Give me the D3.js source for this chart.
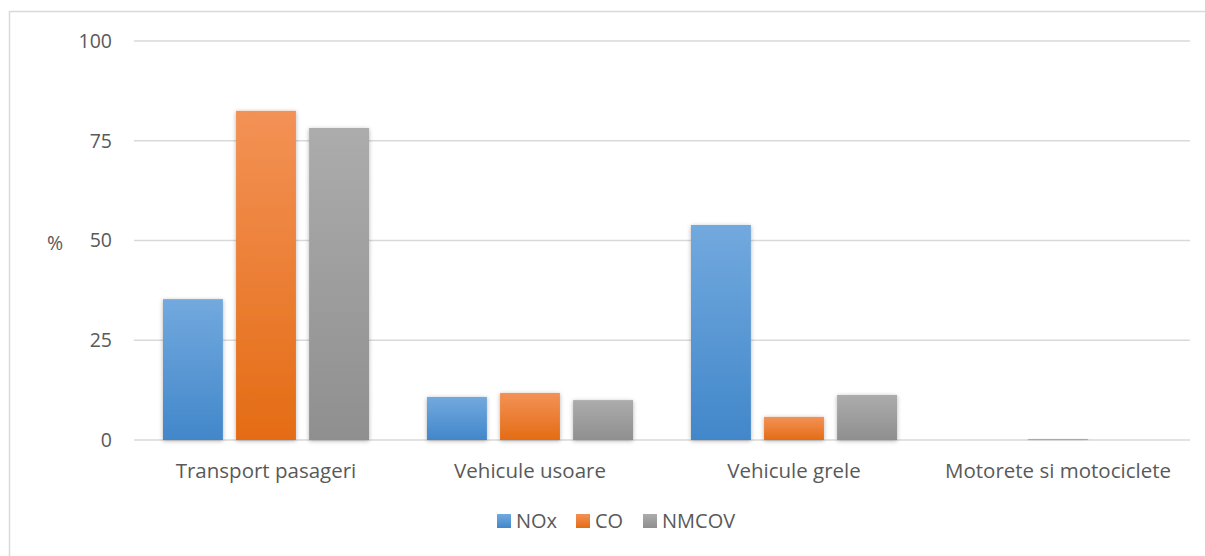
<!DOCTYPE html>
<html>
<head>
<meta charset="utf-8">
<script src="https://cdn.jsdelivr.net/npm/d3@7"></script>
<style>
  body { margin: 0; background: #fff; }
  text { font-family: "Open Sans", "Noto Sans", sans-serif; fill: #595959; }
</style>
</head>
<body>
<svg id="chart"></svg>
<script>
// data
var categories = ["Transport pasageri", "Vehicule usoare", "Vehicule grele", "Motorete si motociclete"];
var seriesNames = ["NOx", "CO", "NMCOV"];
var nox = [35.3, 10.8, 53.9, 0];
var co = [82.5, 11.8, 5.8, 0.2];
var nmcov = [78.2, 10.0, 11.3, 0];
var yTicks = [0, 25, 50, 75, 100];

var colors = {
  NOx: ["#72a9de", "#4287ca"],
  CO: ["#f39256", "#e46c15"],
  NMCOV: ["#acacac", "#8f8f8f"]
};

var W = 1205, H = 556;
var margin = {top: 41, right: 15, bottom: 116, left: 134};
var width = W - margin.left - margin.right;
var height = H - margin.top - margin.bottom;

var svg = d3.select("#chart").attr("width", W).attr("height", H);

var defs = svg.append("defs");
seriesNames.forEach(function(s) {
  var g = defs.append("linearGradient").attr("id", "grad-" + s)
    .attr("x1", 0).attr("y1", 0).attr("x2", 0).attr("y2", 1);
  g.append("stop").attr("offset", "0%").attr("stop-color", colors[s][0]);
  g.append("stop").attr("offset", "100%").attr("stop-color", colors[s][1]);
});
var f = defs.append("filter").attr("id", "shadow")
  .attr("x", "-30%").attr("y", "-30%").attr("width", "160%").attr("height", "160%");
f.append("feDropShadow").attr("dx", 0).attr("dy", 1).attr("stdDeviation", 2)
  .attr("flood-color", "#000").attr("flood-opacity", 0.3);

// chart area border (only top + left visible in reference)
svg.append("rect").attr("x", 9.5).attr("y", 11.5).attr("width", W).attr("height", H)
  .attr("fill", "none").attr("stroke", "#d9d9d9").attr("stroke-width", 1.5);

var g = svg.append("g").attr("transform", "translate(" + margin.left + "," + margin.top + ")");

var x0 = d3.scaleBand().domain(categories).range([0, width]).paddingInner(0).paddingOuter(0);
var x1 = d3.scaleBand().domain(seriesNames).range([29, x0.bandwidth() - 29]).paddingInner(0.18).paddingOuter(0);
var y = d3.scaleLinear().domain([0, 100]).range([height, 0]);

// gridlines
g.selectAll(".grid").data(yTicks).enter().append("line")
  .attr("x1", 0).attr("x2", width)
  .attr("y1", function(d) { return y(d); }).attr("y2", function(d) { return y(d); })
  .attr("stroke", "#d9d9d9").attr("stroke-width", 1.5);

// y tick labels
g.selectAll(".ytick").data(yTicks).enter().append("text")
  .attr("x", -22).attr("y", function(d) { return y(d); })
  .attr("dy", "0.35em").attr("text-anchor", "end")
  .style("font-size", "19.5px")
  .text(function(d) { return d; });

svg.append("text").attr("x", 55).attr("y", 243).attr("dy", "0.35em")
  .attr("text-anchor", "middle").style("font-size", "19.5px").text("%");

// bars
var rows = categories.map(function(c, i) {
  return {cat: c, vals: [
    {s: "NOx", v: nox[i]}, {s: "CO", v: co[i]}, {s: "NMCOV", v: nmcov[i]}
  ]};
});

var groups = g.selectAll(".cat").data(rows).enter().append("g")
  .attr("transform", function(d) { return "translate(" + x0(d.cat) + ",0)"; });

groups.selectAll("rect").data(function(d) { return d.vals.filter(function(e) { return e.v > 0; }); })
  .enter().append("rect")
  .attr("x", function(d) { return x1(d.s); })
  .attr("width", x1.bandwidth())
  .attr("y", function(d) { return y(d.v); })
  .attr("height", function(d) { return y(0) - y(d.v); })
  .attr("fill", function(d) { return "url(#grad-" + d.s + ")"; })
  .attr("filter", "url(#shadow)");

// category labels
g.selectAll(".xlab").data(categories).enter().append("text")
  .attr("x", function(d) { return x0(d) + x0.bandwidth() / 2; })
  .attr("y", height + 38)
  .attr("text-anchor", "middle")
  .style("font-size", "20.5px")
  .text(function(d) { return d; });

// legend
var legendX = [497, 576, 643];
var legend = svg.selectAll(".leg").data(seriesNames).enter().append("g")
  .attr("transform", function(d, i) { return "translate(" + legendX[i] + ",514)"; });
legend.append("rect").attr("width", 14).attr("height", 14)
  .attr("fill", function(d) { return "url(#grad-" + d + ")"; });
legend.append("text").attr("x", 19).attr("y", 7).attr("dy", "0.35em")
  .style("font-size", "20px").text(function(d) { return d; });
</script>
</body>
</html>
